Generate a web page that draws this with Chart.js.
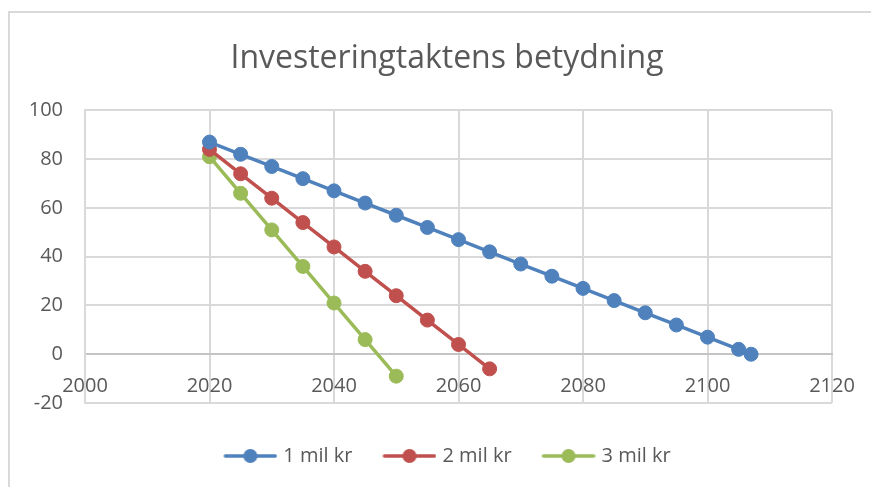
<!DOCTYPE html>
<html lang="no">
<head>
  <meta charset="UTF-8">
  <title>Investeringtaktens betydning</title>
  <script src="https://cdn.jsdelivr.net/npm/chart.js"></script>
  <style>
    body {
      margin: 0;
      background: #fff;
      overflow: hidden;
    }
    #wrap {
      position: relative;
      width: 871px;
      height: 487px;
    }
    #ramme {
      position: absolute;
      left: 8px;
      top: 11px;
      width: 900px;
      height: 500px;
      border-left: 2px solid #d9d9d9;
      border-top: 2px solid #d9d9d9;
      pointer-events: none;
    }
  </style>
</head>
<body>
  <div id="wrap">
    <canvas id="graf" width="871" height="487"></canvas>
    <div id="ramme"></div>
  </div>

  <script>
    // år og verdier lest av figuren
    const aar1 = [2020, 2025, 2030, 2035, 2040, 2045, 2050, 2055, 2060, 2065, 2070, 2075, 2080, 2085, 2090, 2095, 2100, 2105, 2107];
    const verdi1 = [87, 82, 77, 72, 67, 62, 57, 52, 47, 42, 37, 32, 27, 22, 17, 12, 7, 2, 0];
    const aar2 = [2020, 2025, 2030, 2035, 2040, 2045, 2050, 2055, 2060, 2065];
    const verdi2 = [84, 74, 64, 54, 44, 34, 24, 14, 4, -6];
    const aar3 = [2020, 2025, 2030, 2035, 2040, 2045, 2050];
    const verdi3 = [81, 66, 51, 36, 21, 6, -9];
    const navn = ["1 mil kr", "2 mil kr", "3 mil kr"];
    const farger = ["#4f81bd", "#c0504d", "#9bbb59"];

    const FONT = "'Open Sans', sans-serif";
    const TEKST = "#595959";

    function punkter(xs, ys) {
      return xs.map((x, i) => ({ x: x, y: ys[i] }));
    }

    // liten ikon-canvas: strek med rund markør, som i Excel
    function ikon(farge) {
      const c = document.createElement("canvas");
      c.width = 58;
      c.height = 16;
      const g = c.getContext("2d");
      g.strokeStyle = farge;
      g.lineWidth = 3.5;
      g.lineCap = "round";
      g.beginPath();
      g.moveTo(6, 8);
      g.lineTo(56, 8);
      g.stroke();
      g.fillStyle = farge;
      g.beginPath();
      g.arc(31, 8, 7, 0, Math.PI * 2);
      g.fill();
      return c;
    }

    function serie(i, xs, ys) {
      return {
        label: navn[i],
        data: punkter(xs, ys),
        borderColor: farger[i],
        backgroundColor: farger[i],
        borderWidth: 3.5,
        pointRadius: 7,
        pointBorderWidth: 1,
        pointBackgroundColor: farger[i],
        pointBorderColor: farger[i],
        tension: 0
      };
    }

    const ctx = document.getElementById("graf").getContext("2d");

    new Chart(ctx, {
      type: "line",
      data: {
        datasets: [
          serie(0, aar1, verdi1),
          serie(1, aar2, verdi2),
          serie(2, aar3, verdi3)
        ]
      },
      options: {
        responsive: false,
        animation: false,
        layout: {
          padding: { left: 27, right: 4, top: 0, bottom: 11 }
        },
        scales: {
          x: {
            type: "linear",
            position: { y: 0 },
            min: 2000,
            max: 2120,
            grid: { color: "#d9d9d9", lineWidth: 2, drawTicks: false },
            border: { color: "#c4c4c4", width: 2 },
            ticks: {
              stepSize: 20,
              padding: 20,
              color: TEKST,
              font: { family: FONT, size: 20 },
              callback: v => String(v)
            },
            afterFit: s => { s.paddingLeft = 0; s.paddingRight = 0; }
          },
          y: {
            min: -20,
            max: 100,
            grid: { color: "#d9d9d9", lineWidth: 2, drawTicks: false },
            border: { color: "#d9d9d9", width: 2 },
            ticks: {
              stepSize: 20,
              padding: 22,
              color: TEKST,
              font: { family: FONT, size: 20 }
            },
            afterFit: s => { s.width = 58; }
          },
          // tom akse til høyre, bare for å holde plass
          luft: {
            axis: "y",
            position: "right",
            grid: { display: false },
            border: { display: false },
            ticks: { display: false },
            afterFit: s => { s.width = 35; }
          }
        },
        plugins: {
          title: {
            display: true,
            text: "Investeringtaktens betydning",
            color: TEKST,
            font: { family: FONT, size: 32, weight: "normal" },
            padding: { top: 40, bottom: 32 }
          },
          legend: {
            position: "bottom",
            title: { display: true, text: "", font: { size: 10 }, padding: { top: 1, bottom: 0 } },
            labels: {
              usePointStyle: true,
              pointStyleWidth: 50,
              padding: 30,
              color: TEKST,
              font: { family: FONT, size: 20 },
              generateLabels: chart => {
                const liste = Chart.defaults.plugins.legend.labels.generateLabels(chart);
                liste.forEach((l, i) => { l.pointStyle = ikon(farger[i]); });
                return liste;
              }
            }
          },
          tooltip: { enabled: false }
        }
      }
    });
  </script>
</body>
</html>
